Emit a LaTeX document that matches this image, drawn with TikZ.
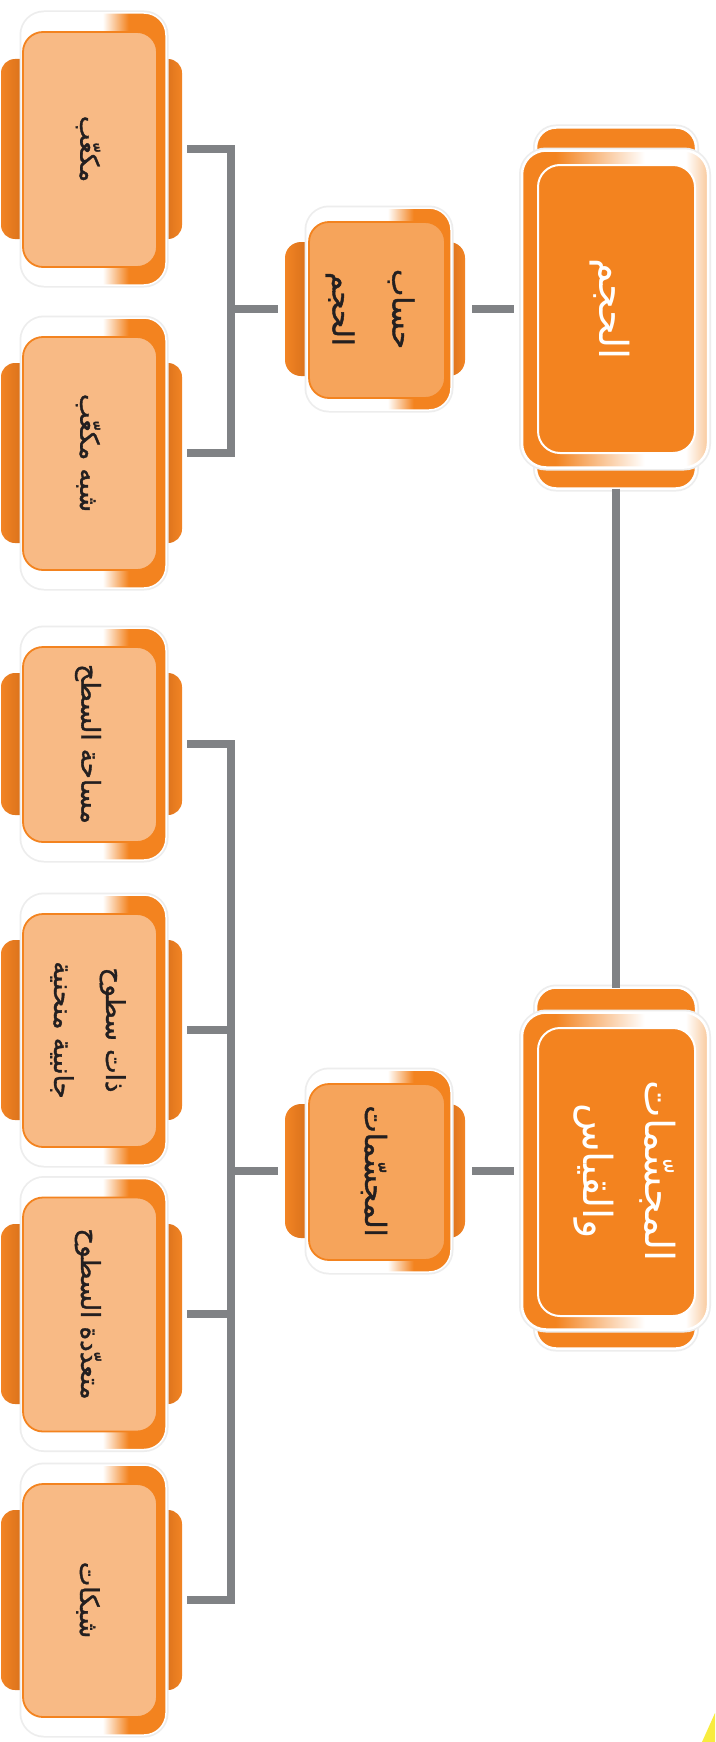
\documentclass[tikz,border=0pt]{standalone}
\usepackage{fontspec}
\newfontfamily\arabicfont[Script=Arabic]{DejaVu Sans}
\newfontfamily\arabicbold[Script=Arabic,FakeBold=1.4]{DejaVu Sans}
\TeXXeTstate=1
\definecolor{corange}{HTML}{F3831F}
\definecolor{ctab}{HTML}{F28424}
\definecolor{ctabdark}{HTML}{D9711B}
\definecolor{cleaf}{HTML}{F8BA85}
\definecolor{cmid}{HTML}{F6A45B}
\definecolor{clight}{HTML}{F9C99C}
\definecolor{cgray}{HTML}{808285}
\definecolor{ctext}{HTML}{231F20}
\definecolor{cyellow}{HTML}{F8EC3E}
\pgfdeclarehorizontalshading{shframe}{100bp}{color(0bp)=(white); color(25bp)=(white); color(53bp)=(white); color(62bp)=(corange); color(100bp)=(corange)}
\pgfdeclarehorizontalshading{shroot}{100bp}{color(0bp)=(corange); color(34bp)=(corange); color(58bp)=(white); color(69bp)=(white); color(75bp)=(clight); color(100bp)=(clight)}
\pgfdeclarehorizontalshading{shtab}{100bp}{color(0bp)=(ctab); color(25bp)=(ctab); color(31bp)=(ctabdark); color(70bp)=(ctabdark); color(75bp)=(ctab); color(100bp)=(ctab)}
\newcommand\leafbox[5]{%
  \node[ltab, minimum height=#4] (#1) at (91.5,#2) {};
  \node[lframe, minimum height=#3] (#1f) at (94,#2) {};
  \node[linner, minimum height=#3-37] (#1i) at (90,#2+0.5) {};
  \node[ltext] (#1t) at (88,#2) {#5};
}
\begin{document}
\begin{tikzpicture}[x=1pt,y=-1pt,
  box/.style={rectangle, inner sep=0pt, outer sep=0pt},
  ltab/.style={box, rounded corners=14pt, minimum width=181pt, shading=shtab},
  lframe/.style={box, rounded corners=22pt, minimum width=144pt, shading=shframe, draw=white, line width=1.5pt, preaction={draw=black!7, line width=5pt}},
  linner/.style={box, rounded corners=20pt, minimum width=134pt, fill=cleaf, draw=corange, line width=1.8pt},
  ltext/.style={rotate=-90, align=center, text=ctext, font=\arabicbold\fontsize{26}{52}\selectfont},
  mtab/.style={box, rounded corners=16pt, minimum width=180pt, minimum height=134pt, shading=shtab},
  mframe/.style={box, rounded corners=22pt, minimum width=144pt, minimum height=202pt, shading=shframe, draw=white, line width=1.5pt, preaction={draw=black!7, line width=5pt}},
  minner/.style={box, rounded corners=20pt, minimum width=136pt, minimum height=176pt, fill=cmid, draw=corange, line width=1.8pt},
  mtext/.style={rotate=-90, align=center, text=ctext, font=\arabicbold\fontsize{29}{60}\selectfont},
  rtab/.style={box, rounded corners=20pt, minimum width=160pt, minimum height=361pt, fill=corange, draw=white, line width=2.5pt, preaction={draw=black!7, line width=6pt}},
  rframe/.style={box, rounded corners=24pt, minimum width=186pt, minimum height=317pt, shading=shroot, draw=white, line width=2.5pt, preaction={draw=black!7, line width=6pt}},
  rinner/.style={box, rounded corners=22pt, minimum width=157pt, minimum height=288pt, fill=corange, draw=white, line width=2pt},
  rtext/.style={rotate=-90, align=center, text=white, font=\arabicfont\fontsize{40}{62}\selectfont},
  conn/.style={draw=cgray, line width=7.5pt, line join=miter, line cap=butt}
]
\useasboundingbox (0,0) rectangle (715,1742);
\fill[white] (0,0) rectangle (715,1742);

% leaves
\leafbox{l1}{149}{272}{180}{\beginR مكعّب\endR}
\leafbox{l2}{453}{270}{180}{\beginR شبه مكعّب\endR}
\leafbox{l3}{744}{232}{142}{\beginR مساحة السطح\endR}
\leafbox{l4}{1030}{270}{180}{\beginR ذات سطوح\endR\\\beginR جانبية منحنية\endR}
\leafbox{l5}{1314}{271}{180}{\beginR متعدّدة السطوح\endR}
\leafbox{l6}{1600}{270}{180}{\beginR شبكات\endR}

% middle level
\node[mtab] (m1) at (375,309) {};
\node[mframe] (m1f) at (379,309) {};
\node[minner] (m1i) at (377,310) {};
\node[mtext] (m1t) at (370,309) {\beginR حساب\endR\\\beginR الحجم\endR};

\node[mtab] (m2) at (375,1171) {};
\node[mframe] (m2f) at (379,1171) {};
\node[minner] (m2i) at (377,1172) {};
\node[mtext] (m2t) at (374,1171) {\beginR المجسّمات\endR};

% roots
\node[rtab] (r1) at (616,308) {};
\node[rframe] (r1f) at (615,309) {};
\node[rinner] (r1i) at (616.5,309) {};
\node[rtext] (r1t) at (610,309) {\beginR الحجم\endR};

\node[rtab] (r2) at (616,1168) {};
\node[rframe] (r2f) at (615,1171) {};
\node[rinner] (r2i) at (616.5,1172) {};
\node[rtext] (r2t) at (625,1171) {\beginR المجسّمات\endR\\\beginR والقياس\endR};

% junctions
\coordinate (j1) at (231,309);
\coordinate (j2) at (231,1171);

% connectors
\draw[conn] ([xshift=5pt]l1.east) -| (j1) |- ([xshift=5pt]l2.east);
\draw[conn] (j1) -- ([xshift=-7pt]m1.west);
\draw[conn] ([xshift=5pt]l3.east) -| (j2) |- ([xshift=5pt]l6.east);
\draw[conn] ([xshift=5pt]l4.east) -- (l4.east -| j2);
\draw[conn] ([xshift=5pt]l5.east) -- (l5.east -| j2);
\draw[conn] (j2) -- ([xshift=-7pt]m2.west);
\draw[conn] ([xshift=7pt]m1.east) -- ([xshift=-8pt]r1f.west);
\draw[conn] ([xshift=7pt]m2.east) -- ([xshift=-8pt]r2f.west);
\draw[conn] (r1.south) -- (r2.north);

% corner mark
\fill[cyellow] (702,1742) -- (715,1713) -- (715,1742) -- cycle;
\end{tikzpicture}
\end{document}
